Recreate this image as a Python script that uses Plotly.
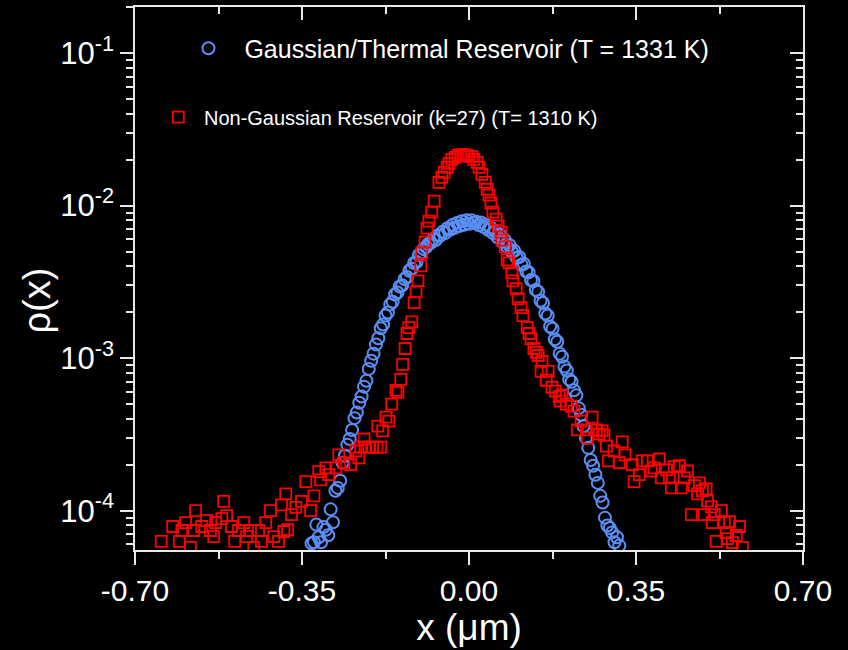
import plotly.graph_objects as go

# Gaussian / thermal reservoir: position x (um) and probability density rho(x)
gauss_x = [
    -0.330, -0.325, -0.320, -0.315, -0.310, -0.305, -0.300, -0.295, -0.290, -0.285,
    -0.280, -0.275, -0.270, -0.265, -0.260, -0.255, -0.250, -0.245, -0.240, -0.235,
    -0.230, -0.225, -0.220, -0.215, -0.210, -0.205, -0.200, -0.195, -0.190, -0.185,
    -0.180, -0.175, -0.170, -0.165, -0.160, -0.155, -0.150, -0.145, -0.140, -0.135,
    -0.130, -0.125, -0.120, -0.115, -0.110, -0.105, -0.100, -0.095, -0.090, -0.085,
    -0.080, -0.075, -0.070, -0.065, -0.060, -0.055, -0.050, -0.045, -0.040, -0.035,
    -0.030, -0.025, -0.020, -0.015, -0.010, -0.005, 0.000, 0.005, 0.010, 0.015,
    0.020, 0.025, 0.030, 0.035, 0.040, 0.045, 0.050, 0.055, 0.060, 0.065,
    0.070, 0.075, 0.080, 0.085, 0.090, 0.095, 0.100, 0.105, 0.110, 0.115,
    0.120, 0.125, 0.130, 0.135, 0.140, 0.145, 0.150, 0.155, 0.160, 0.165,
    0.170, 0.175, 0.180, 0.185, 0.190, 0.195, 0.200, 0.205, 0.210, 0.215,
    0.220, 0.225, 0.230, 0.235, 0.240, 0.245, 0.250, 0.255, 0.260, 0.265,
    0.270, 0.275, 0.280, 0.285, 0.290, 0.295, 0.300, 0.305, 0.310, 0.315,
]
gauss_rho = [
    6.1e-5, 6.2e-5, 8.1e-5, 6.7e-5, 6.2e-5, 7.8e-5, 7.5e-5, 6.9e-5, 1.02e-4, 8.4e-5,
    1.35e-4, 1.41e-4, 1.57e-4, 2.06e-4, 2.29e-4, 2.70e-4, 2.95e-4, 3.38e-4, 4.04e-4, 4.40e-4,
    5.10e-4, 5.60e-4, 6.50e-4, 7.10e-4, 8.50e-4, 9.60e-4, 1.07e-3, 1.23e-3, 1.35e-3, 1.57e-3,
    1.66e-3, 1.90e-3, 1.99e-3, 2.25e-3, 2.34e-3, 2.61e-3, 2.69e-3, 2.95e-3, 3.00e-3, 3.30e-3,
    3.40e-3, 3.74e-3, 3.85e-3, 4.20e-3, 4.27e-3, 4.75e-3, 4.90e-3, 5.20e-3, 5.35e-3, 5.60e-3,
    5.70e-3, 6.05e-3, 5.95e-3, 6.40e-3, 6.35e-3, 6.75e-3, 6.60e-3, 7.10e-3, 6.95e-3, 7.45e-3,
    7.15e-3, 7.70e-3, 7.35e-3, 7.90e-3, 7.50e-3, 8.00e-3, 7.60e-3, 8.00e-3, 7.70e-3, 7.85e-3,
    7.45e-3, 7.75e-3, 7.25e-3, 7.50e-3, 6.95e-3, 7.20e-3, 6.60e-3, 6.80e-3, 6.20e-3, 6.45e-3,
    5.80e-3, 5.95e-3, 5.35e-3, 5.50e-3, 4.98e-3, 5.05e-3, 4.55e-3, 4.60e-3, 4.10e-3, 4.15e-3,
    3.70e-3, 3.65e-3, 3.25e-3, 3.20e-3, 2.80e-3, 2.72e-3, 2.38e-3, 2.30e-3, 1.96e-3, 1.90e-3,
    1.61e-3, 1.56e-3, 1.33e-3, 1.28e-3, 1.07e-3, 1.02e-3, 8.8e-4, 8.3e-4, 7.25e-4, 7.0e-4,
    6.15e-4, 5.7e-4, 4.7e-4, 4.25e-4, 3.58e-4, 3.0e-4, 2.58e-4, 2.15e-4, 1.97e-4, 1.72e-4,
    1.52e-4, 1.25e-4, 1.13e-4, 9.0e-5, 8.0e-5, 7.7e-5, 7.2e-5, 6.2e-5, 6.7e-5, 5.9e-5,
]

# Non-Gaussian reservoir (k=27): position x (um) and probability density rho(x)
ng_x = [
    -0.645, -0.621, -0.607, -0.602, -0.594, -0.584, -0.577, -0.573, -0.560, -0.550,
    -0.542, -0.535, -0.531, -0.518, -0.514, -0.508, -0.498, -0.491, -0.483, -0.472,
    -0.466, -0.458, -0.451, -0.441, -0.435, -0.426, -0.416, -0.409, -0.399, -0.393,
    -0.388, -0.384, -0.380, -0.372, -0.363, -0.351, -0.342, -0.332, -0.325, -0.315,
    -0.311, -0.300, -0.294, -0.279, -0.273, -0.262, -0.248, -0.237, -0.231, -0.227,
    -0.220, -0.218, -0.210, -0.202, -0.193, -0.191, -0.185, -0.181, -0.174, -0.168,
    -0.162, -0.153, -0.149, -0.143, -0.139, -0.134, -0.130, -0.126, -0.120, -0.115,
    -0.111, -0.107, -0.101, -0.099, -0.092, -0.088, -0.084, -0.078, -0.073, -0.063,
    -0.057, -0.052, -0.046, -0.042, -0.036, -0.029, -0.023, -0.017, -0.010, -0.004,
    0.000, 0.006, 0.010, 0.017, 0.021, 0.027, 0.034, 0.038, 0.042, 0.046,
    0.050, 0.057, 0.061, 0.067, 0.069, 0.076, 0.080, 0.084, 0.090, 0.092,
    0.099, 0.103, 0.109, 0.113, 0.122, 0.126, 0.130, 0.136, 0.141, 0.145,
    0.151, 0.153, 0.162, 0.166, 0.174, 0.181, 0.189, 0.191, 0.195, 0.204,
    0.214, 0.220, 0.227, 0.235, 0.246, 0.248, 0.258, 0.267, 0.273, 0.279,
    0.283, 0.288, 0.292, 0.304, 0.315, 0.321, 0.327, 0.342, 0.346, 0.357,
    0.363, 0.374, 0.382, 0.388, 0.399, 0.403, 0.414, 0.420, 0.424, 0.430,
    0.441, 0.445, 0.451, 0.458, 0.466, 0.472, 0.479, 0.483, 0.489, 0.493,
    0.497, 0.500, 0.508, 0.510, 0.514, 0.518, 0.529, 0.535, 0.539, 0.542,
    0.546, 0.552, 0.560, 0.567, 0.573,
]
ng_rho = [
    6.28e-5, 7.87e-5, 6.28e-5, 7.41e-5, 8.35e-5, 5.74e-5, 7.41e-5, 1.00e-4, 7.87e-5, 8.61e-5,
    7.41e-5, 6.76e-5, 8.35e-5, 8.87e-5, 1.15e-4, 9.27e-5, 7.87e-5, 6.28e-5, 7.41e-5, 8.35e-5,
    6.76e-5, 7.41e-5, 5.74e-5, 7.41e-5, 6.28e-5, 8.35e-5, 1.00e-4, 6.76e-5, 6.28e-5, 1.09e-4,
    7.30e-5, 1.29e-4, 7.52e-5, 9.42e-5, 1.05e-4, 1.15e-4, 1.55e-4, 1.00e-4, 1.25e-4, 1.80e-4,
    1.59e-4, 1.91e-4, 1.72e-4, 1.91e-4, 2.32e-4, 2.06e-4, 2.00e-4, 2.46e-4, 2.22e-4, 2.61e-4,
    2.95e-4, 2.61e-4, 2.61e-4, 2.61e-4, 2.61e-4, 3.58e-4, 2.61e-4, 3.33e-4, 4.10e-4, 3.86e-4,
    4.99e-4, 6.15e-4, 5.97e-4, 7.26e-4, 9.10e-4, 1.156e-3, 1.45e-3, 1.585e-3, 1.73e-3, 2.31e-3,
    2.72e-3, 3.21e-3, 4.03e-3, 4.90e-3, 5.77e-3, 7.12e-3, 7.91e-3, 9.06e-3, 1.07e-2, 1.42e-2,
    1.53e-2, 1.65e-2, 1.78e-2, 1.89e-2, 2.01e-2, 2.07e-2, 2.13e-2, 2.16e-2, 2.16e-2, 2.13e-2,
    2.10e-2, 2.10e-2, 2.01e-2, 1.92e-2, 1.78e-2, 1.60e-2, 1.42e-2, 1.28e-2, 1.17e-2, 1.04e-2,
    9.06e-3, 8.15e-3, 7.35e-3, 6.70e-3, 5.94e-3, 5.36e-3, 4.41e-3, 4.21e-3, 3.62e-3, 3.21e-3,
    2.85e-3, 2.45e-3, 2.14e-3, 1.90e-3, 1.585e-3, 1.45e-3, 1.34e-3, 1.156e-3, 1.09e-3, 1.04e-3,
    8.19e-4, 9.51e-4, 7.16e-4, 8.19e-4, 6.44e-4, 6.07e-4, 5.62e-4, 5.22e-4, 5.71e-4, 4.99e-4,
    4.84e-4, 4.49e-4, 3.38e-4, 3.86e-4, 3.38e-4, 2.99e-4, 4.10e-4, 3.38e-4, 3.18e-4, 3.33e-4,
    3.13e-4, 2.65e-4, 2.12e-4, 2.46e-4, 2.06e-4, 2.82e-4, 2.32e-4, 2.00e-4, 1.55e-4, 1.72e-4,
    2.12e-4, 2.12e-4, 1.82e-4, 1.91e-4, 2.18e-4, 1.64e-4, 1.85e-4, 1.64e-4, 1.41e-4, 1.94e-4,
    1.97e-4, 1.41e-4, 1.64e-4, 1.82e-4, 9.42e-5, 1.46e-4, 1.29e-4, 1.52e-4, 1.35e-4, 9.42e-5,
    1.39e-4, 1.16e-4, 1.06e-4, 8.35e-5, 9.42e-5, 6.28e-5, 1.00e-4, 8.35e-5, 7.18e-5, 6.56e-5,
    8.48e-5, 6.18e-5, 6.87e-5, 7.87e-5, 5.74e-5,
]

gauss_label = "\u00a0\u00a0\u200aGaussian/Thermal Reservoir (T = 1331 K)"
ng_label = "\u00a0Non-Gaussian Reservoir (k=27) (T= 1310 K)"

x_ticks = [-0.70, -0.35, 0.00, 0.35, 0.70]
x_minor = [-0.525, -0.175, 0.175, 0.525]
y_ticks = [1e-4, 1e-3, 1e-2, 1e-1]
y_ticktext = ["10<sup>-4</sup>", "10<sup>-3</sup>", "10<sup>-2</sup>", "10<sup>-1</sup>"]
y_minor = [m * d for d in (1e-5, 1e-4, 1e-3, 1e-2, 1e-1) for m in range(2, 10)]

x_range = [-0.70, 0.70]
y_range = [-4.258, -0.698]

FONT = "Liberation Sans, Arial, sans-serif"
BLUE = "#5b8ff5"
RED = "#ff0000"
AX = "#e8e8e8"

fig = go.Figure()

fig.add_trace(go.Scatter(
    x=gauss_x, y=gauss_rho, mode="markers", name=gauss_label, showlegend=True,
    marker=dict(symbol="circle-open", size=12, color=BLUE, line=dict(width=2, color=BLUE)),
    legend="legend",
))
fig.add_trace(go.Scatter(
    x=ng_x, y=ng_rho, mode="markers", name=ng_label, showlegend=True,
    marker=dict(symbol="square-open", size=11, color=RED, line=dict(width=1.8, color=RED)),
    legend="legend2",
))
# carrier trace for the top/right frame axes
fig.add_trace(go.Scatter(x=[], y=[], xaxis="x2", yaxis="y2", showlegend=False, hoverinfo="skip"))

common_x = dict(range=x_range, showgrid=False, zeroline=False, showline=True,
                linecolor=AX, linewidth=1.5, tickcolor=AX, tickwidth=1.5, ticklen=13,
                tickmode="array", tickvals=x_ticks,
                minor=dict(tickmode="array", tickvals=x_minor, ticklen=7,
                           tickcolor=AX, tickwidth=1.5))
common_y = dict(type="log", range=y_range, showgrid=False, zeroline=False, showline=True,
                linecolor=AX, linewidth=1.5, tickcolor=AX, tickwidth=1.5, ticklen=13,
                tickmode="array", tickvals=y_ticks,
                minor=dict(tickmode="array", tickvals=y_minor, ticklen=7,
                           tickcolor=AX, tickwidth=1.5))

fig.update_layout(
    width=848, height=650,
    margin=dict(l=135, r=45, t=7, b=100),
    paper_bgcolor="black", plot_bgcolor="black",
    font=dict(family=FONT, color="white"),
    showlegend=True,
    xaxis=dict(**common_x, ticks="outside", minor_ticks="outside",
               ticktext=[f"{v:.2f}" for v in x_ticks],
               tickfont=dict(size=30, color="white"),
               title=dict(text="x (\u03bcm)", font=dict(size=37, color="white"), standoff=6)),
    yaxis=dict(**common_y, ticks="outside", minor_ticks="outside",
               ticktext=y_ticktext,
               tickfont=dict(size=31, color="white")),
    xaxis2=dict(**common_x, overlaying="x", side="top", anchor="y",
                ticks="inside", minor_ticks="inside", showticklabels=False),
    yaxis2=dict(**common_y, overlaying="y", side="right", anchor="x",
                ticks="inside", minor_ticks="inside", showticklabels=False),
    legend=dict(x=0.08, y=0.966, xanchor="left", yanchor="top",
                bgcolor="rgba(0,0,0,0)", font=dict(size=25, color="white", family=FONT)),
    legend2=dict(x=0.035, y=0.833, xanchor="left", yanchor="top",
                 bgcolor="rgba(0,0,0,0)", font=dict(size=20, color="white", family=FONT)),
    annotations=[dict(text="\u03c1(x)", textangle=-90, showarrow=False,
                      xref="paper", yref="paper", x=-0.147, y=0.459,
                      xanchor="center", yanchor="middle",
                      font=dict(size=38, color="white", family=FONT))],
)

fig.write_html("out.html")
